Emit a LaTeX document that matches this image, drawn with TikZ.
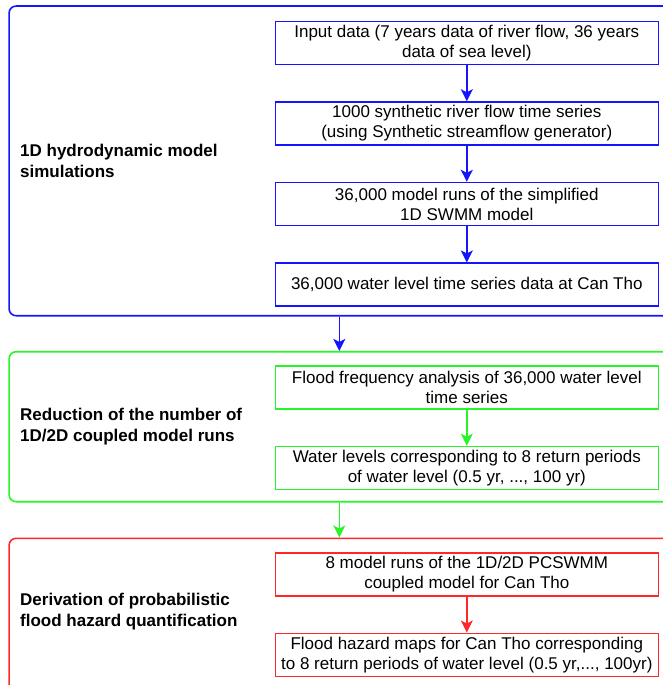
\documentclass[tikz,border=0pt]{standalone}
\usepackage{fontspec}
\setmainfont{Liberation Sans}
\usetikzlibrary{positioning, arrows.meta}

\definecolor{simblue}{RGB}{20,20,255}
\definecolor{redgreen}{RGB}{40,245,40}
\definecolor{derred}{RGB}{255,40,40}

\begin{document}
\begin{tikzpicture}[
    x=1pt, y=1pt,
    node distance=36pt,
    group/.style={rectangle, rounded corners=7pt, line width=1.6pt, minimum width=691pt},
    group label/.style={anchor=west, inner sep=0pt, align=left, font=\fontsize{17}{21}\selectfont\bfseries},
    box/.style={rectangle, draw, line width=1.6pt, minimum width=383pt, minimum height=43pt,
        inner xsep=2pt, inner ysep=2pt, align=center, font=\fontsize{17}{20}\selectfont},
    arrow line/.style={-{Stealth[length=12pt, width=12pt, inset=3pt]}, line width=1.6pt}
]
    \clip (0,0) rectangle (663,-685);

    % Groups
    \node[group, draw=simblue, minimum height=309.7pt] (sim) at (354.6,-160.9) {};
    \node[group, draw=redgreen, minimum height=150pt] (reduc) at (354.6,-426.7) {};
    \node[group, draw=derred, minimum height=160pt] (deriv) at (354.6,-618.3) {};

    \node[group label] (simlabel) at ([xshift=11.7pt]sim.west) {1D hydrodynamic model\\simulations};
    \node[group label] (reduclabel) at ([xshift=11.7pt]reduc.west) {Reduction of the number of\\1D/2D coupled model runs};
    \node[group label] (derivlabel) at ([xshift=11.7pt, yshift=6.3pt]deriv.west) {Derivation of probabilistic\\flood hazard quantification};

    % Boxes
    \node[box, draw=simblue] (input) at (466.8,-42.9) {Input data (7 years data of river flow, 36 years\\data of sea level)};
    \node[box, draw=simblue] (synth) [below=of input] {1000 synthetic river flow time series\\(using Synthetic streamflow generator)};
    \node[box, draw=simblue] (runs) [below=of synth] {36,000 model runs of the simplified\\1D SWMM model};
    \node[box, draw=simblue] (level) [below=of runs] {36,000 water level time series data at Can Tho};

    \node[box, draw=redgreen] (freq) at (466.8,-387.4) {Flood frequency analysis of 36,000 water level\\time series};
    \node[box, draw=redgreen] (wlevel) [below=of freq] {Water levels corresponding to 8 return periods\\of water level (0.5 yr, ..., 100 yr)};

    \node[box, draw=derred] (pcswmm) at (466.8,-574.2) {8 model runs of the 1D/2D PCSWMM\\coupled model for Can Tho};
    \node[box, draw=derred] (maps) [below=of pcswmm] {Flood hazard maps for Can Tho corresponding\\to 8 return periods of water level (0.5 yr,..., 100yr)};

    % Edges
    \draw[arrow line, simblue] (input) -- (synth);
    \draw[arrow line, simblue] (synth) -- (runs);
    \draw[arrow line, simblue] (runs) -- (level);
    \draw[arrow line, redgreen] (freq) -- (wlevel);
    \draw[arrow line, derred] (pcswmm) -- (maps);

    \draw[arrow line, simblue] ([xshift=331pt]sim.south west) -- ([xshift=331pt]reduc.north west);
    \draw[arrow line, redgreen] ([xshift=331pt]reduc.south west) -- ([xshift=331pt]deriv.north west);

\end{tikzpicture}
\end{document}
